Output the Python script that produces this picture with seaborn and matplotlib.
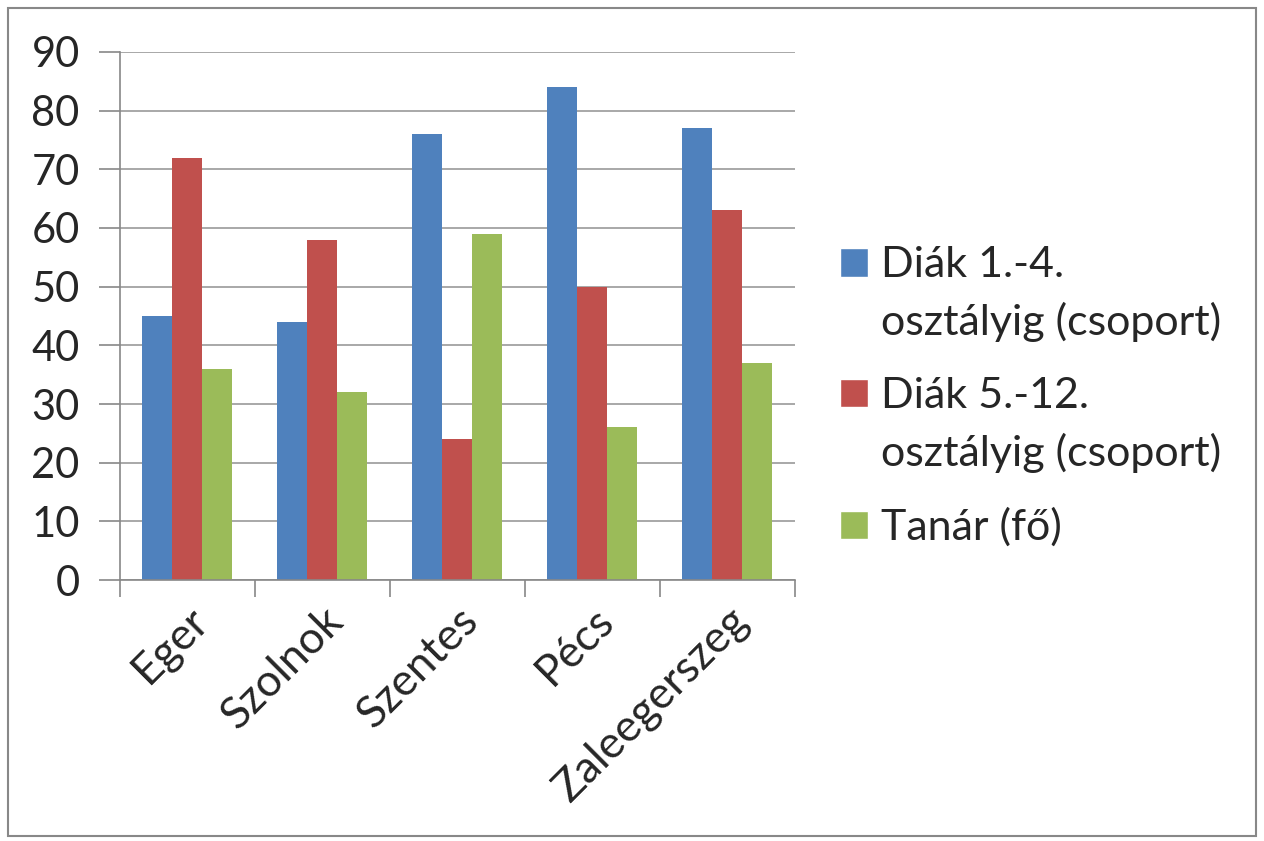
import pandas as pd
import numpy as np
import matplotlib.pyplot as plt
import seaborn as sns
from matplotlib.patches import Rectangle, Patch
from matplotlib.legend_handler import HandlerPatch

# Data
cities = ["Eger", "Szolnok", "Szentes", "Pécs", "Zaleegerszeg"]
series = ["Diák 1.-4.\nosztályig (csoport)", "Diák 5.-12.\nosztályig (csoport)", "Tanár (fő)"]
diak_1_4 = [45, 44, 76, 84, 77]
diak_5_12 = [72, 58, 24, 50, 63]
tanar = [36, 32, 59, 26, 37]
colors = ["#4F81BD", "#C0504D", "#9BBB59"]

df = pd.DataFrame({
    "city": cities * 3,
    "group": [series[0]] * 5 + [series[1]] * 5 + [series[2]] * 5,
    "value": diak_1_4 + diak_5_12 + tanar,
})

sns.set_style("white")
plt.rcParams['font.family'] = ['Lato', 'DejaVu Sans']

fig = plt.figure(figsize=(12.64, 8.41), dpi=100)
ax = fig.add_axes([0.0949, 0.3103, 0.534, 0.6279])

sns.barplot(data=df, x="city", y="value", hue="group", palette=colors,
            width=0.667, saturation=1, linewidth=0, ax=ax, legend=False)

ax.set_xlim(-0.5, 4.5)
ax.set_ylim(0, 90)
ax.set_yticks(range(0, 91, 10))
ax.set_xlabel("")
ax.set_ylabel("")
ax.yaxis.grid(True, color="#999999", linewidth=1.2)
ax.set_axisbelow(True)

for s in ["top", "right"]:
    ax.spines[s].set_visible(False)
for s in ["left", "bottom"]:
    ax.spines[s].set_color("#888888")
    ax.spines[s].set_linewidth(1.2)

ax.tick_params(axis="y", direction="out", length=15, color="#888888", width=1.2,
               labelsize=30, pad=14, left=True)
ax.tick_params(axis="x", which="major", length=0, labelsize=32, pad=14)
ax.set_xticks(np.arange(-0.5, 5, 1), minor=True)
ax.tick_params(axis="x", which="minor", direction="out", length=12, color="#888888",
               width=1.2, bottom=True)
for lab in ax.get_xticklabels():
    lab.set_rotation(45)
    lab.set_ha("right")
    lab.set_rotation_mode("anchor")


# legend square sits next to the first line of a two-line label
def top_square(legend, orig_handle, xdescent, ydescent, width, height, fontsize):
    shift = 0.75 * fontsize if "\n" in orig_handle.get_label() else 0
    return Rectangle((-xdescent, -ydescent + shift), width, height)


handles = [Patch(facecolor=c, label=s) for c, s in zip(colors, series)]
ax.legend(handles=handles, loc="upper left", bbox_to_anchor=(0.651, 0.728),
          bbox_transform=fig.transFigure, frameon=False, fontsize=31,
          handlelength=0.65, handleheight=0.65, handletextpad=0.3,
          labelspacing=0.8, borderaxespad=0,
          handler_map={Patch: HandlerPatch(patch_func=top_square)})
for t in ax.get_legend().get_texts():
    t.set_linespacing(1.55)

fig.patches.append(Rectangle((0.006, 0.006), 0.988, 0.984, transform=fig.transFigure,
                             fill=False, edgecolor="#888888", linewidth=1.5))

fig.savefig("out.png", dpi=100)
